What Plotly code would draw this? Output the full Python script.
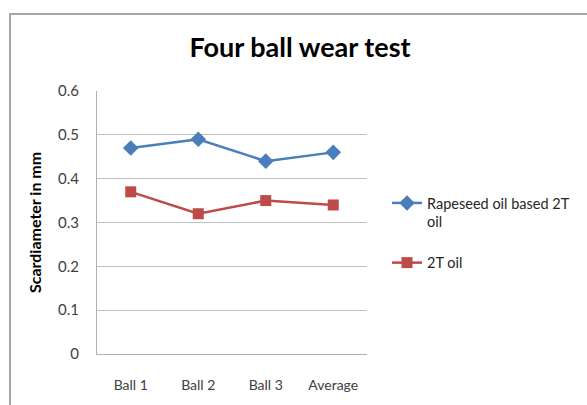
import plotly.graph_objects as go

categories = ["Ball 1", "Ball 2", "Ball 3", "Average"]
rapeseed = [0.47, 0.49, 0.44, 0.46]
two_t = [0.37, 0.32, 0.35, 0.34]
series_names = ["Rapeseed oil based 2T<br>oil", "2T oil"]

L, R, T, B = 97, 220, 91, 51
W, H = 587, 405
pw, ph = W - L - R, H - T - B

def px_x(px):
    return (px - L) / pw

def px_y(py):
    return (H - B - py) / ph

fig = go.Figure()
fig.add_trace(go.Scatter(x=categories, y=rapeseed, name=series_names[0], mode="lines+markers",
                         legendgroup="a",
                         line=dict(color="#4a7ebb", width=2.5),
                         marker=dict(symbol="diamond", size=12, color="#4a7ebb")))
fig.add_trace(go.Scatter(x=categories, y=two_t, name=series_names[1], mode="lines+markers",
                         legendgroup="b",
                         line=dict(color="#be4b48", width=2.5),
                         marker=dict(symbol="square", size=11, color="#be4b48")))

fig.add_shape(type="rect", xref="paper", yref="paper",
              x0=px_x(10), x1=px_x(700), y0=px_y(600), y1=px_y(14),
              line=dict(color="#a6a6a6", width=2), fillcolor="rgba(0,0,0,0)", layer="below")

fig.update_layout(
    width=W, height=H,
    margin=dict(l=L, r=R, t=T, b=B),
    paper_bgcolor="white", plot_bgcolor="white",
    font=dict(family="Lato, Open Sans, sans-serif", color="#404040"),
    title=dict(text="<b>Four ball wear test</b>", x=px_x(300), xref="paper", xanchor="center",
               y=1 - 48 / H, yanchor="middle", font=dict(size=27, color="#000000")),
    showlegend=True,
    legend=dict(x=px_x(387), y=px_y(187), xanchor="left", yanchor="top",
                font=dict(size=14.5, color="#262626"), bgcolor="rgba(0,0,0,0)",
                traceorder="grouped", tracegroupgap=19, valign="top", itemwidth=30),
    xaxis=dict(type="category", range=[-0.5, 3.5], showgrid=False, showline=True,
               linecolor="#b0b0b0", linewidth=1, ticks="", tickfont=dict(size=14, color="#404040"),
               ticklabelstandoff=18),
    yaxis=dict(range=[0, 0.6], dtick=0.1, tickformat="~g", showgrid=True, gridcolor="#c0c0c0",
               gridwidth=1, showline=True, linecolor="#b0b0b0", linewidth=1, zeroline=False,
               ticks="", tickfont=dict(size=15, color="#404040"), ticklabelstandoff=14,
               title=dict(text="<b>Scardiameter in mm</b>", font=dict(size=16, color="#000000"),
                          standoff=12)),
)

fig.write_html("out.html")
